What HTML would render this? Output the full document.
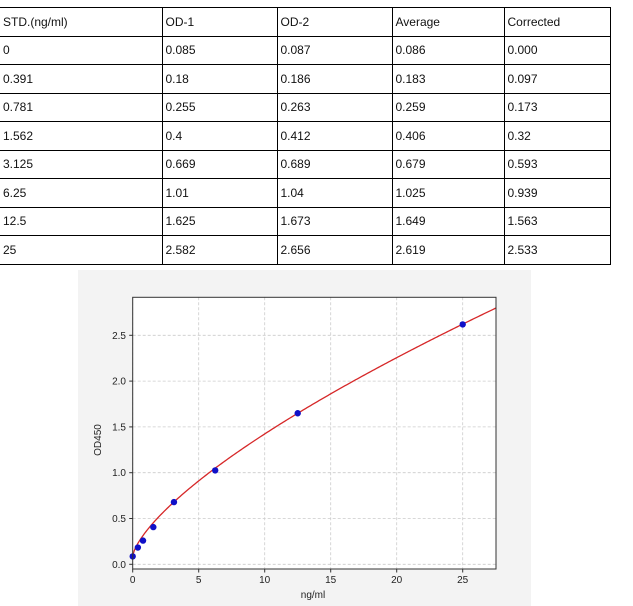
<!DOCTYPE html>
<html><head><meta charset="utf-8"><style>
body{margin:0;width:633px;height:606px;background:#fff;position:relative;overflow:hidden;font-family:"Liberation Sans",sans-serif}
table{position:absolute;left:0;top:7px;border-collapse:collapse;font-size:12px;color:#111}
td{height:27.5px;padding:0 0 0 3px;border-top:1.3px solid #000;border-bottom:1.3px solid #000;border-left:1.3px solid #000;vertical-align:middle}
td:first-child{border-left:none}
td:last-child{border-right:1.3px solid #000}
</style></head><body>
<table>
<colgroup><col style="width:162px"><col style="width:115px"><col style="width:115px"><col style="width:112px"><col style="width:106px"></colgroup>
<tr><td>STD.(ng/ml)</td><td>OD-1</td><td>OD-2</td><td>Average</td><td>Corrected</td></tr>
<tr><td>0</td><td>0.085</td><td>0.087</td><td>0.086</td><td>0.000</td></tr>
<tr><td>0.391</td><td>0.18</td><td>0.186</td><td>0.183</td><td>0.097</td></tr>
<tr><td>0.781</td><td>0.255</td><td>0.263</td><td>0.259</td><td>0.173</td></tr>
<tr><td>1.562</td><td>0.4</td><td>0.412</td><td>0.406</td><td>0.32</td></tr>
<tr><td>3.125</td><td>0.669</td><td>0.689</td><td>0.679</td><td>0.593</td></tr>
<tr><td>6.25</td><td>1.01</td><td>1.04</td><td>1.025</td><td>0.939</td></tr>
<tr><td>12.5</td><td>1.625</td><td>1.673</td><td>1.649</td><td>1.563</td></tr>
<tr><td>25</td><td>2.582</td><td>2.656</td><td>2.619</td><td>2.533</td></tr>
</table>
<svg id="s" width="633" height="606" style="position:absolute;left:0;top:0" font-family="Liberation Sans, sans-serif">
<rect x="78" y="270" width="453" height="336" fill="#f3f3f3"/>
<rect x="132.7" y="297.3" width="363.3" height="271.7" fill="#fff"/>
<g id="g"></g>
<rect x="132.7" y="297.3" width="363.3" height="271.7" fill="none" stroke="#333" stroke-width="1"/>
<text x="313" y="598" font-size="10" text-anchor="middle" fill="#222">ng/ml</text>
<text transform="translate(101,440) rotate(-90)" font-size="10" text-anchor="middle" fill="#222">OD450</text>
</svg>
<script>
var g=document.getElementById('g'),h='';
function X(x){return 132.7+13.2*x}function Y(y){return 564.3-91.6*y}
[0,5,10,15,20,25].forEach(function(v){var x=X(v);h+='<line x1="'+x+'" y1="297.3" x2="'+x+'" y2="569" stroke="#ccc" stroke-dasharray="3,2" stroke-width="0.8"/>';
h+='<line x1="'+x+'" y1="569" x2="'+x+'" y2="572.5" stroke="#333"/>';
h+='<text x="'+x+'" y="583" font-size="10" text-anchor="middle" fill="#222">'+v+'</text>';});
[0,0.5,1,1.5,2,2.5].forEach(function(v){var y=Y(v);h+='<line x1="132.7" y1="'+y+'" x2="496" y2="'+y+'" stroke="#ccc" stroke-dasharray="3,2" stroke-width="0.8"/>';
h+='<line x1="129.2" y1="'+y+'" x2="132.7" y2="'+y+'" stroke="#333"/>';
h+='<text x="126" y="'+(y+3.5)+'" font-size="10" text-anchor="end" fill="#222">'+v.toFixed(1)+'</text>';});
var d='';for(var i=0;i<=275;i++){var x=i/10;var y=0.09+0.266*Math.pow(x,0.7)-0.03*Math.sin(Math.min(x,6)/6*Math.PI)*0;d+=(i?'L':'M')+X(x).toFixed(2)+','+Y(y).toFixed(2);}
h+='<path d="'+d+'" fill="none" stroke="#d62728" stroke-width="1.3"/>';
[[0,0.086],[0.391,0.183],[0.781,0.259],[1.562,0.406],[3.125,0.679],[6.25,1.025],[12.5,1.649],[25,2.619]].forEach(function(p){h+='<circle cx="'+X(p[0])+'" cy="'+Y(p[1])+'" r="3.2" fill="#1010c8"/>';});
g.innerHTML=h;
</script>
</body></html>
